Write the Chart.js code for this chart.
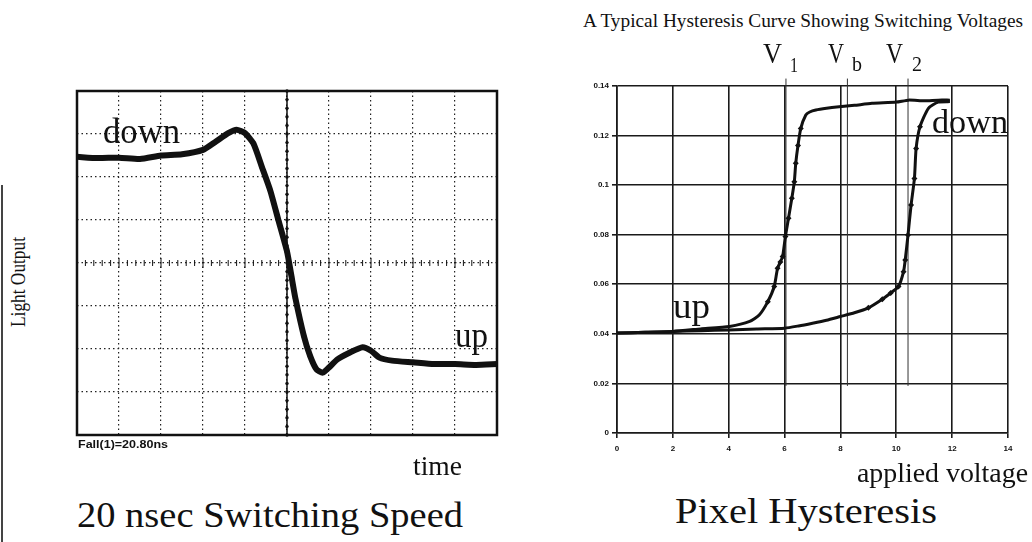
<!DOCTYPE html>
<html>
<head>
<meta charset="utf-8">
<script src="https://cdn.jsdelivr.net/npm/chart.js@4.4.1/dist/chart.umd.min.js"></script>
<style>
  html, body { margin: 0; padding: 0; background: #fff; }
  #page { position: relative; width: 1032px; height: 542px; overflow: hidden; color: #111;
          font-family: "Liberation Serif", "Times New Roman", serif; }
  .box { position: absolute; }
  .txt { position: absolute; white-space: nowrap; line-height: 1; transform-origin: 0 0; }
</style>
</head>
<body>
<div id="page">
  <div class="box" style="left:60px;top:80px;width:450px;height:370px"><canvas id="scope"></canvas></div>
  <div class="box" style="left:560px;top:40px;width:472px;height:430px"><canvas id="hyst"></canvas></div>
  <div class="box" style="left:1px;top:185px;width:2px;height:357px;background:#444"></div>
</div>
<script>
// oscilloscope trace (divisions): time vs light output
var scopeTime = [0, 0.5, 1, 1.5, 2, 2.5, 3, 3.3, 3.6, 3.8, 4.0, 4.2, 4.4, 4.6, 4.8, 5.0, 5.1, 5.2, 5.4,
  5.55, 5.7, 5.85, 6.0, 6.2, 6.5, 6.8, 7.0, 7.2, 7.5, 8, 8.5, 9, 9.5, 10];
var scopeLevel = [2.47, 2.44, 2.45, 2.42, 2.5, 2.53, 2.63, 2.82, 3.02, 3.1, 3.02, 2.78, 2.24, 1.69, 0.98, 0.27, -0.27, -0.82, -1.69,
  -2.16, -2.47, -2.55, -2.43, -2.24, -2.08, -1.96, -2.04, -2.2, -2.27, -2.31, -2.35, -2.35, -2.37, -2.35];

// hysteresis: increasing voltage ("up") and decreasing voltage ("down")
var upVoltage = [0, 1, 2, 3, 4, 5, 6, 6.5, 7, 7.5, 8, 8.5, 9, 9.5, 9.8, 10.08, 10.26, 10.32, 10.42, 10.53,
  10.65, 10.71, 10.85, 11.15, 11.5, 11.92];
var upOutput = [0.0403, 0.0406, 0.041, 0.0413, 0.0416, 0.042, 0.0423, 0.0432, 0.0443, 0.0455, 0.047, 0.0485, 0.0505,
  0.054, 0.0565, 0.0591, 0.0651, 0.0698, 0.0799, 0.092, 0.1027, 0.1148, 0.1236, 0.131, 0.1335, 0.1337];
var downVoltage = [11.92, 11.5, 11, 10.44, 10, 9.13, 8.5, 7.95, 7.5, 7.12, 6.9, 6.76, 6.58, 6.48, 6.4, 6.35,
  6.26, 6.14, 6.03, 5.93, 5.85, 5.75, 5.63, 5.4, 5.1, 4.75, 4.03, 3, 2, 1, 0];
var downOutput = [0.1343, 0.1343, 0.134, 0.1343, 0.1335, 0.133, 0.1322, 0.1316, 0.131, 0.1303, 0.1295, 0.1283,
  0.1229, 0.116, 0.1088, 0.1014, 0.0947, 0.0866, 0.0793, 0.0712, 0.069, 0.0665, 0.0591, 0.053, 0.0477, 0.045,
  0.043, 0.042, 0.041, 0.0406, 0.0403];

// switching voltages V1, Vb, V2
var switchNames = ["1", "b", "2"];
var switchVolts = [6.05, 8.25, 10.42];

// tick labels
var voltageTicks = [0, 2, 4, 6, 8, 10, 12, 14];
var outputTicks = [0, 0.02, 0.04, 0.06, 0.08, 0.1, 0.12, 0.14];

function pairs(xs, ys) {
  return xs.map(function (x, i) { return { x: x, y: ys[i] }; });
}

// scope: crosshair in the middle and a heavy frame
var scopeFrame = {
  id: "scopeFrame",
  beforeDatasetsDraw: function (chart) {
    var ctx = chart.ctx, a = chart.chartArea;
    var xs = chart.scales.x, ys = chart.scales.y;
    var cx = xs.getPixelForValue(5), cy = ys.getPixelForValue(0);
    ctx.save();
    ctx.strokeStyle = "#111";
    ctx.fillStyle = "#111";
    ctx.lineWidth = 1.5;
    ctx.beginPath();
    ctx.moveTo(cx, a.top);
    ctx.lineTo(cx, a.bottom);
    ctx.stroke();
    for (var v = -4; v <= 4.001; v += 0.2) {
      ctx.beginPath();
      ctx.arc(cx, ys.getPixelForValue(v), 1.7, 0, Math.PI * 2);
      ctx.fill();
    }
    ctx.lineWidth = 1;
    for (var t = 0; t <= 10.001; t += 0.2) {
      var px = xs.getPixelForValue(t);
      var big = Math.abs(t - Math.round(t)) < 0.01;
      ctx.beginPath();
      ctx.moveTo(px, cy - (big ? 5 : 3));
      ctx.lineTo(px, cy + (big ? 5 : 3));
      ctx.stroke();
    }
    ctx.restore();
  },
  afterDraw: function (chart) {
    var ctx = chart.ctx, a = chart.chartArea;
    ctx.save();
    ctx.strokeStyle = "#111";
    ctx.lineWidth = 2.5;
    ctx.strokeRect(a.left, a.top, a.right - a.left, a.bottom - a.top);
    ctx.restore();
  }
};

// hysteresis: thin vertical lines at the switching voltages
var switchLines = {
  id: "switchLines",
  beforeDatasetsDraw: function (chart) {
    var ctx = chart.ctx;
    var xs = chart.scales.x, ys = chart.scales.y;
    ctx.save();
    ctx.strokeStyle = "#333";
    ctx.lineWidth = 1;
    switchVolts.forEach(function (v) {
      var px = xs.getPixelForValue(v);
      ctx.beginPath();
      ctx.moveTo(px, ys.getPixelForValue(0.143));
      ctx.lineTo(px, ys.getPixelForValue(0.019));
      ctx.stroke();
    });
    ctx.restore();
  }
};

Chart.defaults.animation = false;
Chart.defaults.color = "#111";

new Chart(document.getElementById("scope"), {
  type: "line",
  data: {
    datasets: [{
      data: pairs(scopeTime, scopeLevel),
      borderColor: "#111",
      borderWidth: 6,
      tension: 0.2,
      pointRadius: function (c) {
        var t = scopeTime[c.dataIndex];
        return t > 4.1 && t < 5.8 ? 2.5 : 0;
      },
      pointBackgroundColor: "#111",
      pointBorderWidth: 0
    }]
  },
  options: {
    responsive: true,
    maintainAspectRatio: false,
    layout: { padding: { left: 17, right: 13, top: 11, bottom: 15 } },
    plugins: { legend: { display: false }, tooltip: { enabled: false } },
    scales: {
      x: {
        type: "linear", min: 0, max: 10,
        ticks: { display: false, stepSize: 1 },
        grid: { color: "#222", lineWidth: 1.2, drawTicks: false },
        border: { display: false, dash: [1.5, 3] }
      },
      y: {
        min: -4, max: 4,
        ticks: { display: false, stepSize: 1 },
        grid: { color: "#222", lineWidth: 1.2, drawTicks: false },
        border: { display: false, dash: [1.5, 3] }
      }
    }
  },
  plugins: [scopeFrame]
});

function steepMarker(xs, ys) {
  return function (c) {
    var y = ys[c.dataIndex];
    return y > 0.05 && y < 0.126 ? 3 : 0;
  };
}

new Chart(document.getElementById("hyst"), {
  type: "scatter",
  data: {
    datasets: [
      {
        label: "up",
        data: pairs(upVoltage, upOutput),
        showLine: true,
        borderColor: "#111",
        borderWidth: 3,
        tension: 0.2,
        pointStyle: "rectRot",
        pointRadius: steepMarker(upVoltage, upOutput),
        pointBackgroundColor: "#111",
        pointBorderWidth: 0
      },
      {
        label: "down",
        data: pairs(downVoltage, downOutput),
        showLine: true,
        borderColor: "#111",
        borderWidth: 3,
        tension: 0.2,
        pointStyle: "rectRot",
        pointRadius: steepMarker(downVoltage, downOutput),
        pointBackgroundColor: "#111",
        pointBorderWidth: 0
      }
    ]
  },
  options: {
    responsive: true,
    maintainAspectRatio: false,
    layout: { padding: { left: 0, right: 24, top: 46, bottom: 15 } },
    plugins: { legend: { display: false }, tooltip: { enabled: false } },
    scales: {
      x: {
        type: "linear", min: 0, max: 14,
        afterBuildTicks: function (s) { s.ticks = voltageTicks.map(function (v) { return { value: v }; }); },
        afterFit: function (s) { s.height = 22; },
        ticks: { font: { family: "Liberation Sans", size: 8, weight: "bold" }, padding: 6, maxRotation: 0 },
        grid: { color: "#1a1a1a", lineWidth: 1.6, tickLength: 5 },
        border: { color: "#1a1a1a", width: 1.6 }
      },
      y: {
        min: 0, max: 0.14,
        afterBuildTicks: function (s) { s.ticks = outputTicks.map(function (v) { return { value: v }; }); },
        afterFit: function (s) { s.width = 57; },
        ticks: {
          font: { family: "Liberation Sans", size: 8, weight: "bold" }, padding: 3,
          callback: function (v) { return String(+v.toFixed(2)); }
        },
        grid: { color: "#1a1a1a", lineWidth: 1.6, tickLength: 5 },
        border: { color: "#1a1a1a", width: 1.6 }
      }
    }
  },
  plugins: [switchLines]
});

// text placed by baseline and stretched to its measured width
var page = document.getElementById("page");
function place(t) {
  var el = document.createElement("span");
  el.className = "txt";
  el.textContent = t.text;
  el.style.fontSize = t.size + "px";
  if (t.sans) el.style.fontFamily = "Liberation Sans, Arial, sans-serif";
  if (t.bold) el.style.fontWeight = "bold";
  page.appendChild(el);
  var w = el.getBoundingClientRect().width;
  var sx = t.len ? t.len / w : 1;
  var asc = (t.sans ? 0.8465 : 0.8375) * t.size;
  if (t.rotate) {
    el.style.left = "0px";
    el.style.top = "0px";
    el.style.transform = "translate(" + (t.base - asc) + "px," + t.bottom + "px) rotate(-90deg) scaleX(" + sx + ")";
  } else {
    el.style.left = t.left + "px";
    el.style.top = (t.base - asc) + "px";
    el.style.transform = "scaleX(" + sx + ")";
  }
}

[
  { text: "A Typical Hysteresis Curve Showing Switching Voltages", left: 583, len: 440, base: 27, size: 19 },
  { text: "V", left: 763, len: 19, base: 63, size: 30 },
  { text: switchNames[0], left: 790, len: 8, base: 73, size: 21 },
  { text: "V", left: 828, len: 16, base: 63, size: 30 },
  { text: switchNames[1], left: 852, len: 10, base: 72, size: 21 },
  { text: "V", left: 886, len: 17, base: 63, size: 30 },
  { text: switchNames[2], left: 912, len: 10, base: 72, size: 21 },
  { text: "up", left: 673, len: 37, base: 318, size: 36 },
  { text: "down", left: 932, len: 76, base: 133, size: 34 },
  { text: "applied voltage", left: 857, len: 171, base: 482, size: 28 },
  { text: "Pixel Hysteresis", left: 675, len: 262, base: 523, size: 35 },
  { text: "down", left: 103, len: 77, base: 143, size: 35 },
  { text: "up", left: 455, len: 33, base: 347, size: 36 },
  { text: "Fall(1)=20.80ns", left: 78, len: 90, base: 448, size: 11, sans: true, bold: true },
  { text: "time", left: 413, len: 49, base: 476, size: 27 },
  { text: "20 nsec Switching Speed", left: 77, len: 386, base: 527, size: 36 },
  { text: "Light Output", rotate: true, bottom: 327, len: 90, base: 25, size: 20 }
].forEach(place);
</script>
</body>
</html>
